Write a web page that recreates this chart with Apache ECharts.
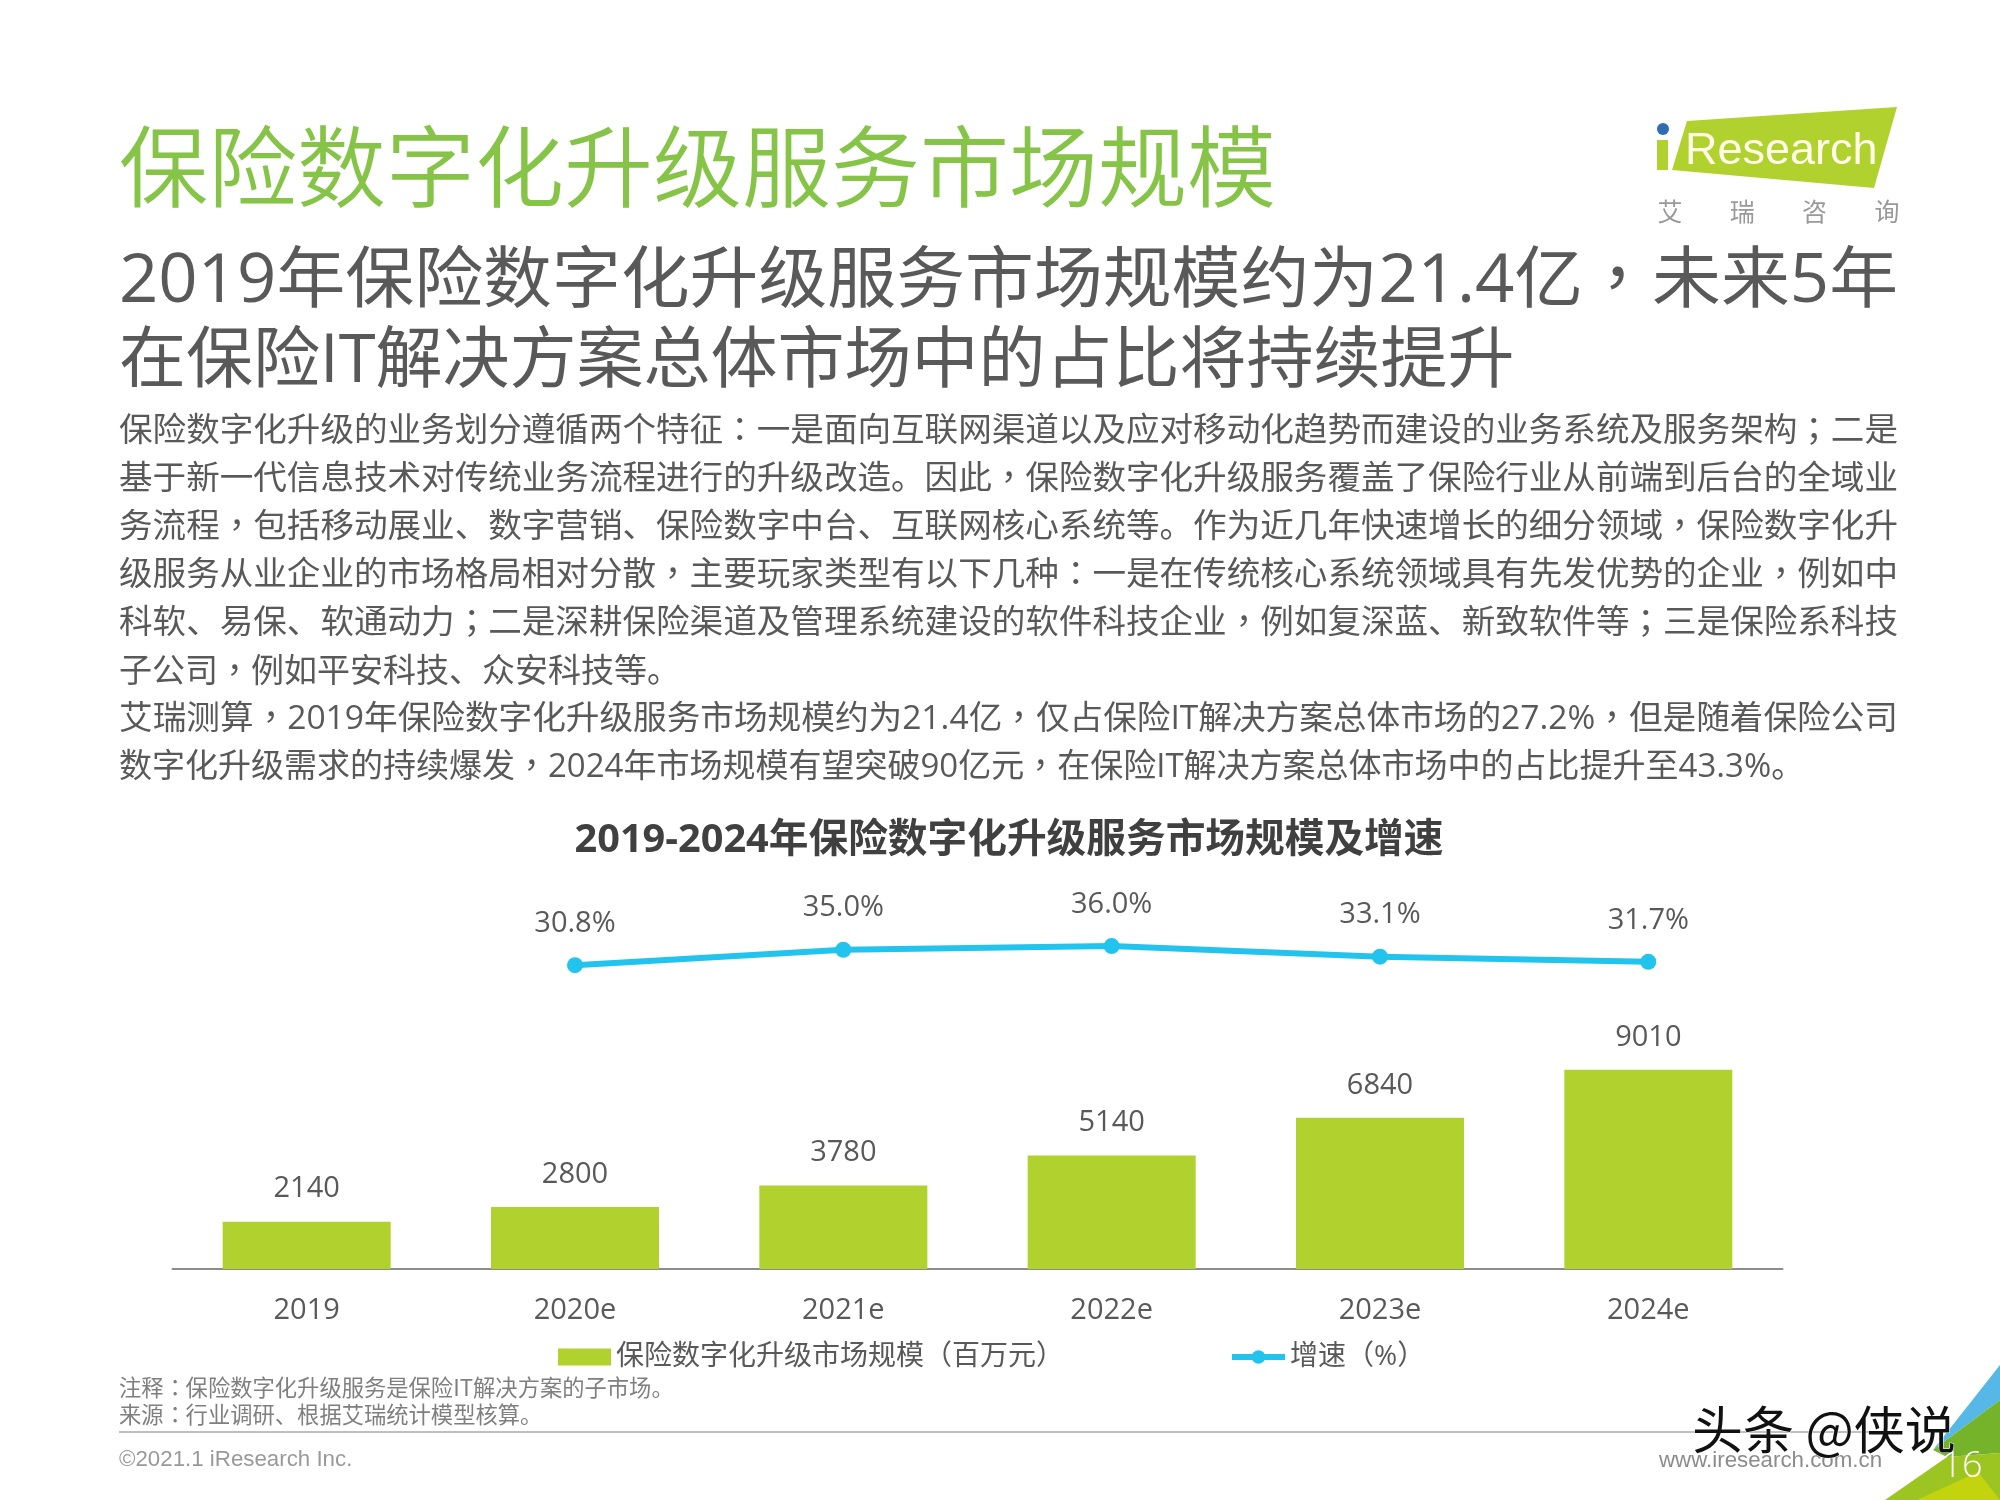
<!DOCTYPE html>
<html>
<head>
<meta charset="utf-8">
<title>保险数字化升级服务市场规模</title>
<script src="https://cdn.jsdelivr.net/npm/echarts@6/dist/echarts.min.js"></script>
<style>
/* 原图的逗号冒号是居中的，这几个标点借用繁中字形 */
@font-face{
    font-family:"PunctTC";
    src:local("Noto Sans CJK TC"),local("Noto Sans CJK TC Regular");
    unicode-range:U+FF0C,U+FF1A,U+FF1B;
}
html,body{margin:0;padding:0;background:#fff;}
#main{width:2000px;height:1500px;}
</style>
</head>
<body>
<div id="main"></div>
<script>
var years = ['2019', '2020e', '2021e', '2022e', '2023e', '2024e'];
var marketSize = [2140, 2800, 3780, 5140, 6840, 9010];
var growthRate = [null, 30.8, 35.0, 36.0, 33.1, 31.7];
var seriesNames = ['保险数字化升级市场规模（百万元）', '增速（%）'];

var pageTitle = '保险数字化升级服务市场规模';
var subTitle = [
    '2019年保险数字化升级服务市场规模约为21.4亿，未来5年',
    '在保险IT解决方案总体市场中的占比将持续提升'
];
var bodyLines = [
    '保险数字化升级的业务划分遵循两个特征：一是面向互联网渠道以及应对移动化趋势而建设的业务系统及服务架构；二是',
    '基于新一代信息技术对传统业务流程进行的升级改造。因此，保险数字化升级服务覆盖了保险行业从前端到后台的全域业',
    '务流程，包括移动展业、数字营销、保险数字中台、互联网核心系统等。作为近几年快速增长的细分领域，保险数字化升',
    '级服务从业企业的市场格局相对分散，主要玩家类型有以下几种：一是在传统核心系统领域具有先发优势的企业，例如中',
    '科软、易保、软通动力；二是深耕保险渠道及管理系统建设的软件科技企业，例如复深蓝、新致软件等；三是保险系科技',
    '子公司，例如平安科技、众安科技等。',
    '艾瑞测算，2019年保险数字化升级服务市场规模约为21.4亿，仅占保险IT解决方案总体市场的27.2%，但是随着保险公司',
    '数字化升级需求的持续爆发，2024年市场规模有望突破90亿元，在保险IT解决方案总体市场中的占比提升至43.3%。'
];
var chartTitle = '2019-2024年保险数字化升级服务市场规模及增速';
var noteLines = ['注释：保险数字化升级服务是保险IT解决方案的子市场。', '来源：行业调研、根据艾瑞统计模型核算。'];

var CJK = '"PunctTC","Noto Sans CJK SC"';
var measureCtx = document.createElement('canvas').getContext('2d');

// 一行文字，给了 width 就横向拉伸到这个宽度（原图两端对齐）
function textLine(text, x, y, font, fill, width, align) {
    var el = {
        type: 'text',
        x: x,
        y: y,
        style: {
            text: text,
            font: font,
            fill: fill,
            textAlign: align || 'left',
            textVerticalAlign: 'middle'
        }
    };
    if (width) {
        measureCtx.font = font;
        el.scaleX = width / measureCtx.measureText(text).width;
    }
    return el;
}

function poly(points, color) {
    return { type: 'polygon', shape: { points: points }, style: { fill: color } };
}

function buildGraphics() {
    var graphics = [];

    // 标题
    graphics.push(textLine(pageTitle, 119, 166, '350 89px ' + CJK, '#85c446'));
    graphics.push(textLine(subTitle[0], 119, 283, '67px "Open Sans",' + CJK, '#595959', 1779));
    graphics.push(textLine(subTitle[1], 119, 363, '67px "Open Sans",' + CJK, '#595959'));

    // 正文
    var bodyY = [432, 480, 528, 576, 624, 673, 720, 768];
    bodyLines.forEach(function (line, i) {
        var width = (i === 5 || i === 7) ? null : 1779;
        graphics.push(textLine(line, 119, bodyY[i], '33px "Open Sans",' + CJK, '#595959', width));
    });

    // 图表标题
    graphics.push(textLine(chartTitle, 1009, 841, 'bold 39.7px "Open Sans",' + CJK, '#404040', null, 'center'));

    // logo
    graphics.push(poly([[1687, 121], [1897, 107], [1874, 188], [1672, 170]], '#b0d12e'));
    graphics.push({ type: 'rect', shape: { x: 1657, y: 140, width: 11, height: 30 }, style: { fill: '#b0d12e' } });
    graphics.push({ type: 'circle', shape: { cx: 1663, cy: 129, r: 6 }, style: { fill: '#2e6db4' } });
    graphics.push(textLine('Research', 1685, 152, '45px "Liberation Sans"', '#fdfde8'));
    ['艾', '瑞', '咨', '询'].forEach(function (c, i) {
        graphics.push(textLine(c, 1670 + i * 72.3, 211, '25px ' + CJK, '#999999', null, 'center'));
    });

    // 页脚
    noteLines.forEach(function (line, i) {
        graphics.push(textLine(line, 119, 1388 + i * 27, '22.3px ' + CJK, '#7f7f7f'));
    });
    graphics.push({
        type: 'line',
        shape: { x1: 119, y1: 1432, x2: 1898, y2: 1432 },
        style: { stroke: '#bfbfbf', lineWidth: 2 }
    });
    graphics.push(textLine('©2021.1 iResearch Inc.', 119, 1460, '22.3px "Liberation Sans"', '#999999'));
    graphics.push(textLine('www.iresearch.com.cn', 1659, 1461, '22.3px "Liberation Sans"', '#8c8c8c'));

    // 右下角色块
    graphics.push(poly([[2000, 1365], [1933, 1450], [2000, 1400]], '#55b8e6'));
    graphics.push(poly([[2000, 1400], [1933, 1450], [1947, 1457], [2000, 1453]], '#75b32a'));
    graphics.push(poly([[1885, 1500], [1947, 1457], [2000, 1453], [2000, 1500]], '#9cc522'));
    graphics.push(poly([[1917, 1500], [1978, 1472], [2000, 1500]], '#c3d40e'));
    graphics.push(textLine('16', 1962, 1467, '300 36px "Open Sans"', '#ffffff', null, 'center'));

    // 水印
    var watermark = textLine('头条 @侠说', 1692, 1430, '51px "Noto Sans CJK SC"', '#111111');
    watermark.style.stroke = '#ffffff';
    watermark.style.lineWidth = 1;
    graphics.push(watermark);
    return graphics;
}

function draw() {
    var myChart = echarts.init(document.getElementById('main'));
    var option = {
        animation: false,
        backgroundColor: '#ffffff',
        textStyle: { fontFamily: '"Open Sans","PunctTC","Noto Sans CJK SC"' },
        graphic: buildGraphics(),
        legend: {
            left: 553,
            top: 1338,
            itemWidth: 53,
            itemHeight: 17,
            itemGap: 165,
            selectedMode: false,
            textStyle: { fontSize: 28, color: '#595959' },
            data: [
                { name: seriesNames[0], icon: 'rect' },
                { name: seriesNames[1], lineStyle: { width: 6 } }
            ]
        },
        grid: { left: 172.5, width: 1610, top: 880, height: 389 },
        xAxis: {
            type: 'category',
            data: years,
            axisTick: { show: false },
            axisLine: { show: true, lineStyle: { color: '#8c8c8c', width: 2 } },
            axisLabel: { fontSize: 29, color: '#595959', margin: 27 }
        },
        yAxis: [{
            type: 'value',
            show: false,
            min: 0,
            max: 17600,
            splitLine: { show: false }
        }, {
            type: 'value',
            show: false,
            min: -52,
            max: 54,
            splitLine: { show: false }
        }],
        series: [{
            name: seriesNames[0],
            type: 'bar',
            barWidth: 168,
            data: marketSize,
            itemStyle: { color: '#b0d12e' },
            label: { show: true, position: 'top', distance: 18, fontSize: 29, color: '#595959' }
        }, {
            name: seriesNames[1],
            type: 'line',
            yAxisIndex: 1,
            data: growthRate,
            symbol: 'circle',
            symbolSize: 16,
            connectNulls: false,
            itemStyle: { color: '#22c4ee' },
            lineStyle: { color: '#22c4ee', width: 6 },
            label: {
                show: true,
                position: 'top',
                distance: 19,
                fontSize: 29,
                color: '#595959',
                formatter: function (p) { return p.value.toFixed(1) + '%'; }
            }
        }]
    };
    myChart.setOption(option);
}

document.fonts.load('33px "PunctTC"', '，：；').then(draw, draw);
</script>
</body>
</html>
